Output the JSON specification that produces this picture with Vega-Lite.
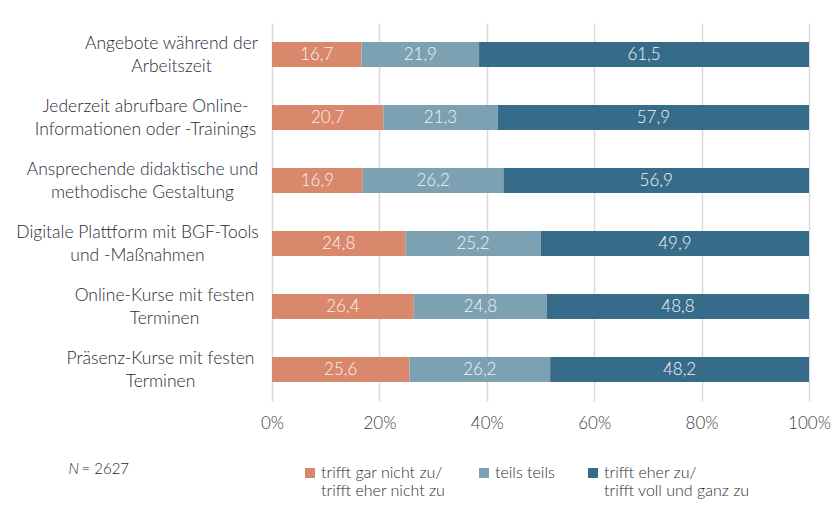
{
  "$schema": "https://vega.github.io/schema/vega-lite/v6.json",
  "width": 537,
  "height": 378,
  "autosize": "none",
  "padding": {"left": 272, "top": 23, "right": 25, "bottom": 112},
  "background": "white",
  "config": {
    "locale": {"number": {"decimal": ",", "thousands": ".", "grouping": [3], "currency": ["", " €"]}},
    "view": {"stroke": null},
    "font": "Lato"
  },
  "data": {
    "values": [
      {"item": "Angebote während der|Arbeitszeit", "response": "trifft gar nicht zu/ trifft eher nicht zu", "order": 1, "value": 16.7},
      {"item": "Angebote während der|Arbeitszeit", "response": "teils teils", "order": 2, "value": 21.9},
      {"item": "Angebote während der|Arbeitszeit", "response": "trifft eher zu/ trifft voll und ganz zu", "order": 3, "value": 61.5},
      {"item": "Jederzeit abrufbare Online-|Informationen oder -Trainings", "response": "trifft gar nicht zu/ trifft eher nicht zu", "order": 1, "value": 20.7},
      {"item": "Jederzeit abrufbare Online-|Informationen oder -Trainings", "response": "teils teils", "order": 2, "value": 21.3},
      {"item": "Jederzeit abrufbare Online-|Informationen oder -Trainings", "response": "trifft eher zu/ trifft voll und ganz zu", "order": 3, "value": 57.9},
      {"item": "Ansprechende didaktische und|methodische Gestaltung", "response": "trifft gar nicht zu/ trifft eher nicht zu", "order": 1, "value": 16.9},
      {"item": "Ansprechende didaktische und|methodische Gestaltung", "response": "teils teils", "order": 2, "value": 26.2},
      {"item": "Ansprechende didaktische und|methodische Gestaltung", "response": "trifft eher zu/ trifft voll und ganz zu", "order": 3, "value": 56.9},
      {"item": "Digitale Plattform mit BGF-Tools|und -Maßnahmen", "response": "trifft gar nicht zu/ trifft eher nicht zu", "order": 1, "value": 24.8},
      {"item": "Digitale Plattform mit BGF-Tools|und -Maßnahmen", "response": "teils teils", "order": 2, "value": 25.2},
      {"item": "Digitale Plattform mit BGF-Tools|und -Maßnahmen", "response": "trifft eher zu/ trifft voll und ganz zu", "order": 3, "value": 49.9},
      {"item": "Online-Kurse mit festen|Terminen", "response": "trifft gar nicht zu/ trifft eher nicht zu", "order": 1, "value": 26.4},
      {"item": "Online-Kurse mit festen|Terminen", "response": "teils teils", "order": 2, "value": 24.8},
      {"item": "Online-Kurse mit festen|Terminen", "response": "trifft eher zu/ trifft voll und ganz zu", "order": 3, "value": 48.8},
      {"item": "Präsenz-Kurse mit festen|Terminen", "response": "trifft gar nicht zu/ trifft eher nicht zu", "order": 1, "value": 25.6},
      {"item": "Präsenz-Kurse mit festen|Terminen", "response": "teils teils", "order": 2, "value": 26.2},
      {"item": "Präsenz-Kurse mit festen|Terminen", "response": "trifft eher zu/ trifft voll und ganz zu", "order": 3, "value": 48.2}
    ]
  },
  "encoding": {
    "y": {
      "field": "item",
      "type": "nominal",
      "sort": null,
      "scale": {"paddingInner": 0.6, "paddingOuter": 0.3},
      "axis": {
        "domain": false,
        "ticks": false,
        "labelExpr": "split(datum.label, '|')",
        "labelAlign": "center",
        "labelBaseline": "middle",
        "labelOffset": -11,
        "labelFont": "Lato",
        "labelFontSize": 17.5,
        "labelFontWeight": 300,
        "labelLineHeight": 23,
        "labelColor": "#1f2a36",
        "labelLimit": 400,
        "labelPadding": {"expr": "slice(datum.value,0,4) == 'Ange' ? 101 : slice(datum.value,0,4) == 'Jede' ? 127 : slice(datum.value,0,4) == 'Ansp' ? 130 : slice(datum.value,0,4) == 'Digi' ? 135 : slice(datum.value,0,4) == 'Onli' ? 108 : 112"},
        "title": "= 2627",
        "titleAngle": 0,
        "titleX": -191,
        "titleY": 445,
        "titleAlign": "left",
        "titleBaseline": "middle",
        "titleFont": "Lato",
        "titleFontSize": 15,
        "titleFontWeight": 300,
        "titleColor": "#262626"
      }
    }
  },
  "layer": [
    {
      "mark": {"type": "bar"},
      "encoding": {
        "x": {
          "field": "value",
          "type": "quantitative",
          "stack": "normalize",
          "scale": {"domain": [0, 1], "nice": false},
          "axis": {
            "values": [0, 0.2, 0.4, 0.6, 0.8, 1],
            "format": ".0%",
            "domain": false,
            "ticks": false,
            "grid": true,
            "gridColor": "#d9d9d9",
            "gridWidth": 1.5,
            "labelFont": "Lato",
            "labelFontSize": 17,
            "labelFontWeight": 300,
            "labelColor": "#404040",
            "labelPadding": 14,
            "labelFlush": false,
            "title": "N",
            "titleFontStyle": "italic",
            "titleFont": "Lato",
            "titleFontSize": 15,
            "titleFontWeight": 300,
            "titleColor": "#262626",
            "titleX": -204,
            "titleY": 67,
            "titleAlign": "left",
            "titleBaseline": "middle"
          }
        },
        "color": {
          "field": "response",
          "type": "nominal",
          "scale": {
            "domain": ["trifft gar nicht zu/ trifft eher nicht zu", "teils teils", "trifft eher zu/ trifft voll und ganz zu"],
            "range": ["#d9886c", "#7ba1b2", "#366c8a"]
          },
          "legend": {
            "orient": "none",
            "legendX": 30,
            "legendY": 442,
            "direction": "horizontal",
            "title": null,
            "symbolType": "square",
            "symbolSize": 100,
            "symbolStrokeWidth": 0,
            "labelExpr": "datum.label == 'teils teils' ? ['teils teils', ' '] : split(replace(datum.label, '/ ', '/|'), '|')",
            "labelFont": "Lato",
            "labelFontSize": 16,
            "labelFontWeight": 300,
            "labelColor": "#2b2f36",
            "labelLineHeight": 22,
            "labelBaseline": "middle",
            "labelOffset": 3,
            "labelLimit": 300,
            "columnPadding": 30
          }
        },
        "order": {"field": "order"}
      }
    },
    {
      "mark": {"type": "text", "color": "#f4f4f4", "fontSize": 17, "font": "Lato", "fontWeight": 300},
      "encoding": {
        "x": {"field": "value", "type": "quantitative", "stack": "normalize", "bandPosition": 0.5},
        "detail": {"field": "response"},
        "order": {"field": "order"},
        "text": {"field": "value", "type": "quantitative", "format": ".1f"}
      }
    }
  ]
}
